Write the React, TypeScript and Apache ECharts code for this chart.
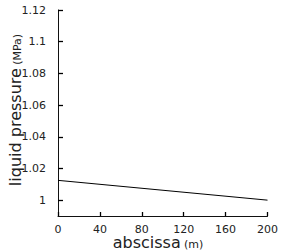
import React, { useEffect, useRef } from "react";
import * as echarts from "echarts";

const xValues = [0, 200];
const pressure = [1.0125, 1.0];
const yTicks = [1, 1.02, 1.04, 1.06, 1.08, 1.1, 1.12];
const xTitle = "abscissa";
const xUnit = "(m)";
const yTitle = "liquid pressure";
const yUnit = "(MPa)";

const FONT = "DejaVu Sans";
const Y_MIN = 0.99;

export default function App() {
  const ref = useRef<HTMLDivElement>(null);
  useEffect(() => {
    if (!ref.current) return;
    const chart = echarts.init(ref.current, null, { renderer: "svg" });
    chart.setOption({
      animation: false,
      grid: { left: 58, top: 10, right: 12, bottom: 35, containLabel: false },
      xAxis: {
        type: "value",
        min: 0,
        max: 200,
        interval: 40,
        splitLine: { show: false },
        axisLine: { show: true, lineStyle: { color: "#111", width: 1 } },
        axisTick: { show: true, inside: true, length: 4, lineStyle: { color: "#000", width: 1.3 } },
        axisLabel: { color: "#222", fontFamily: FONT, fontSize: 11, margin: 8 },
      },
      yAxis: {
        type: "value",
        min: Y_MIN,
        max: 1.12,
        splitLine: { show: false },
        axisLine: { show: true, lineStyle: { color: "#111", width: 1 } },
        axisTick: {
          show: true,
          inside: true,
          length: 5,
          lineStyle: { color: "#000", width: 1.3 },
          customValues: yTicks,
        },
        axisLabel: {
          color: "#222",
          fontFamily: FONT,
          fontSize: 11,
          margin: 12,
          customValues: yTicks,
          formatter: (v: number) => String(parseFloat(v.toFixed(2))),
        },
      },
      graphic: [
        {
          type: "text",
          x: 15,
          y: 110,
          rotation: Math.PI / 2,
          style: {
            text: `{t|${yTitle}} {u|${yUnit}}`,
            align: "center",
            verticalAlign: "middle",
            rich: {
              t: { fontFamily: FONT, fontSize: 16, fill: "#222", lineHeight: 16, verticalAlign: "bottom" },
              u: { fontFamily: FONT, fontSize: 11, fill: "#222", lineHeight: 16, verticalAlign: "bottom" },
            },
          },
        },
        {
          type: "text",
          x: 158,
          y: 242,
          style: {
            text: `{t|${xTitle}} {u|${xUnit}}`,
            align: "center",
            verticalAlign: "middle",
            rich: {
              t: { fontFamily: FONT, fontSize: 16, fill: "#222", lineHeight: 16, verticalAlign: "bottom" },
              u: { fontFamily: FONT, fontSize: 11, fill: "#222", lineHeight: 16, verticalAlign: "bottom" },
            },
          },
        },
        {
          type: "text",
          x: 163,
          y: 0,
          style: {
            text: `{t|${xTitle}} {u|${xUnit}}`,
            align: "center",
            verticalAlign: "bottom",
            rich: {
              t: { fontFamily: FONT, fontSize: 16, fill: "#c8c8c8", lineHeight: 16, verticalAlign: "bottom" },
              u: { fontFamily: FONT, fontSize: 11, fill: "#c8c8c8", lineHeight: 16, verticalAlign: "bottom" },
            },
          },
        },
      ],
      series: [
        {
          type: "line",
          data: xValues.map((x, i) => [x, pressure[i]]),
          symbol: "none",
          lineStyle: { color: "#000", width: 1 },
        },
      ],
    });
    return () => chart.dispose();
  }, []);
  return <div ref={ref} style={{ width: 281, height: 251, position: "absolute", left: 0, top: 0 }} />;
}
